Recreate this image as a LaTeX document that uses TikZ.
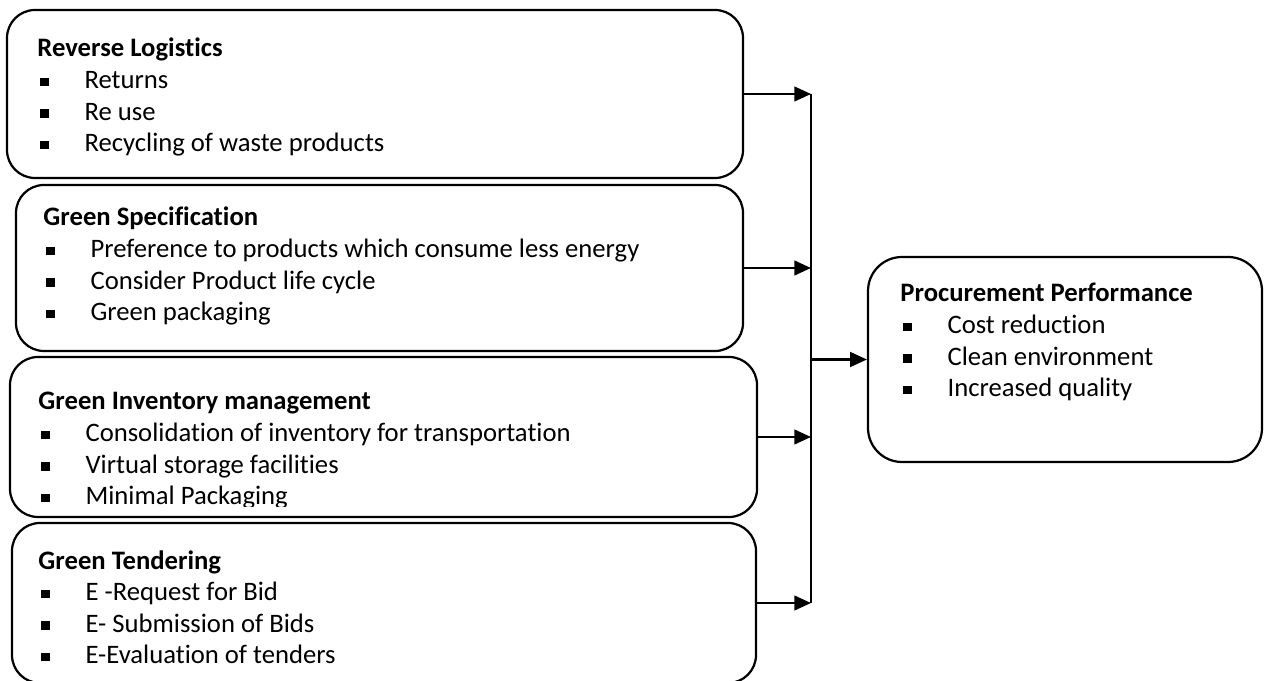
\documentclass[tikz,border=0pt]{standalone}
\usepackage{fontspec}
\setmainfont[Ligatures={NoCommon,NoRequired,NoContextual},RawFeature={-liga;-clig;-calt}]{Carlito}
\usetikzlibrary{arrows.meta,fit}
\newcommand{\ttl}[1]{\hbox{\bfseries #1}}
\newcommand{\itm}[1]{\hbox{\makebox[21.2pt][l]{\hspace{1.2pt}\rule[1pt]{3.9pt}{3.9pt}}#1}}

\begin{document}
\begin{tikzpicture}[x=0.45pt,y=-0.45pt,
  box/.style={draw,line width=1pt,rounded corners=12.6pt,inner sep=0pt},
  txt/.style={anchor=base west,inner sep=0pt,font=\fontsize{12}{14.2}\selectfont},
  arr/.style={line width=1pt,-{Triangle[length=7.5pt,width=6.6pt]}}]
\useasboundingbox (0,0) rectangle (1264,681);
\def\busx{811} % x of the collecting line
% boxes on the left
\node[box,fit={(7,10) (743,178)}] (rl) {};
\node[box,fit={(16,185) (743,351)}] (gs) {};
\node[box,fit={(10,357) (757,517)}] (gi) {};
\node[box,fit={(12,523) (756,683)}] (gt) {};
% box on the right
\node[box,rounded corners=15.3pt,fit={(868,257) (1262,462)}] (pp) {};
% texts
\node[txt] (rltxt) at (37,57) {\vtop{\ttl{Reverse Logistics}
  \itm{Returns}\itm{Re use}\itm{Recycling of waste products}}};
\node[txt] (gstxt) at (43,226) {\vtop{\ttl{Green Specification}
  \itm{Preference to products which consume less energy}
  \itm{Consider Product life cycle}\itm{Green packaging}}};
\begin{scope}
\clip (10,357) rectangle (757,506);
\node[txt] (gitxt) at (38,410) {\vtop{\ttl{Green Inventory management}
  \itm{Consolidation of inventory for transportation}
  \itm{Virtual storage facilities}\itm{Minimal Packaging}}};
\end{scope}
\node[txt] (gttxt) at (38,569) {\vtop{\ttl{Green Tendering}
  \itm{E -Request for Bid}\itm{E- Submission of Bids}
  \itm{E-Evaluation of tenders}}};
\node[txt] (pptxt) at (900,302) {\vtop{\ttl{Procurement Performance}
  \itm{Cost reduction}\itm{Clean environment}\itm{Increased quality}}};
% connectors
\coordinate (bus) at (\busx,0);
\draw[line width=0.8pt] (rl.east -| bus) -- (gt.east -| bus);
\draw[arr] (rl.east) -- (rl.east -| bus);
\draw[arr] (gs.east) -- (gs.east -| bus);
\draw[arr] (gi.east) -- (gi.east -| bus);
\draw[arr] (gt.east) -- (gt.east -| bus);
\draw[arr] (pp.west -| bus) -- (pp.west);
\end{tikzpicture}
\end{document}
